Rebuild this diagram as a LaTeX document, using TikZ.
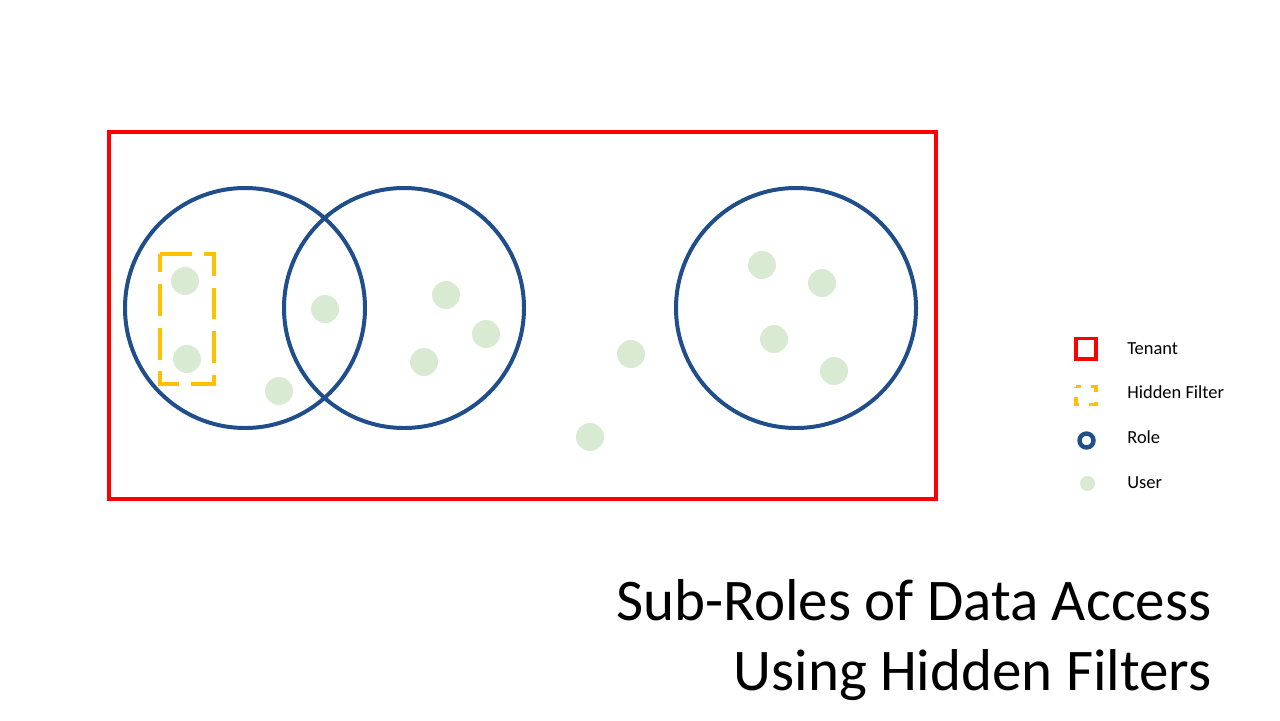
\documentclass[tikz,border=0pt]{standalone}
\usepackage{fontspec}
\setmainfont{Carlito}
\usepackage{tikz}
\usetikzlibrary{positioning}
\definecolor{tenantred}{RGB}{255,0,0}
\definecolor{roleblue}{RGB}{31,78,138}
\definecolor{filteryellow}{RGB}{255,192,0}
\definecolor{usergreen}{RGB}{217,234,211}
\tikzset{
  tenant/.style={draw=tenantred, line width=2.27pt},
  role/.style={draw=roleblue, line width=2.27pt},
  hiddenfilter/.style={draw=filteryellow, line width=2.27pt, dash pattern=on 18.1pt off 6.8pt},
  user/.style={fill=usergreen},
  legendtext/.style={anchor=base west, inner sep=0pt, font=\fontsize{10.5}{12.5}\selectfont},
  titletext/.style={anchor=base east, inner sep=0pt, font=\fontsize{33.6}{40}\selectfont}
}

\begin{document}
\begin{tikzpicture}[x=0.02cm, y=-0.02cm] % Tenant, roles, users and a hidden filter

      \useasboundingbox (0, 0) rectangle (1280, 720);
      \draw [tenant] (109, 132) rectangle (936, 499);
      \draw [role] (245, 308) circle (120);
      \draw [role] (404, 308) circle (120);
      \draw [role] (796, 308) circle (120);
      \foreach \ux/\uy in {185/281, 187/359, 325/309, 279/391, 446/295,
        486/334, 424/362, 631/354, 590/437, 762/265, 822/283, 774/339, 834/371}
        \fill [user] (\ux, \uy) circle (14);
      \draw [hiddenfilter] (160, 254) -- (214, 254) -- (214, 384) -- (160, 384) -- cycle;

      % legend
      \draw [tenant, line width=1.9pt] (1076, 338.5) rectangle (1096, 359);
      \draw [hiddenfilter, line width=1.9pt, dash pattern=on 5.7pt off 5.7pt, dash phase=2.85pt]
        (1076, 386.5) -- (1096, 386.5) -- (1096, 404.5) -- (1076, 404.5) -- cycle;
      \draw [role, line width=2.5pt] (1086.5, 440.5) circle (7);
      \fill [user] (1087.5, 483.5) circle (7.5);
      \node [legendtext] (tenantlabel) at (1127, 354) {Tenant};
      \node [legendtext] (filterlabel) at (1127, 398) {Hidden Filter};
      \node [legendtext] (rolelabel) at (1127, 443) {Role};
      \node [legendtext] (userlabel) at (1127, 488) {User};

      \node [titletext] (titleone) at (1212, 620) {Sub-Roles of Data Access};
      \node [titletext] (titletwo) at (1212, 690) {Using Hidden Filters};

    \end{tikzpicture}
\end{document}
